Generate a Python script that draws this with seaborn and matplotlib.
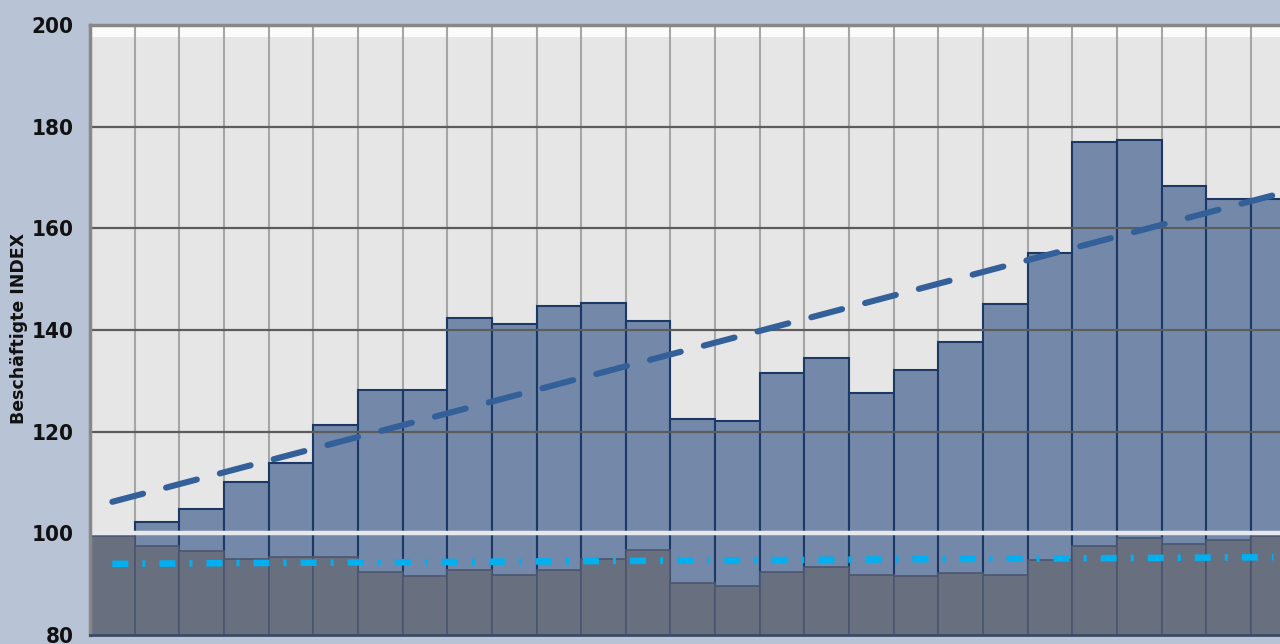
import numpy as np
import pandas as pd
import matplotlib
matplotlib.use("Agg")
import matplotlib.pyplot as plt
import seaborn as sns

# Index values (one column per period)
periods = [str(i) for i in range(1, 28)]
index_values = [100.0, 102.2, 104.8, 110.1, 113.8, 121.3, 128.2, 128.2, 142.4, 141.2,
                144.7, 145.3, 141.8, 122.5, 122.1, 131.5, 134.5, 127.6, 132.1, 137.6,
                145.1, 155.1, 177.0, 177.4, 168.3, 165.8, 165.8]
lower_values = [99.4, 97.6, 96.5, 95.0, 95.3, 95.3, 92.4, 91.6, 92.8, 91.9,
                92.8, 95.0, 96.7, 90.2, 89.6, 92.4, 93.3, 91.9, 91.6, 92.2,
                91.9, 94.7, 97.6, 99.0, 97.9, 98.7, 99.5]
# trend lines: value at first and last period
trend_ends = [106.2, 166.5]
lower_trend_ends = [94.0, 95.3]
y_ticks = [80, 100, 120, 140, 160, 180, 200]

df = pd.DataFrame({"period": periods, "index": index_values, "lower": lower_values})
n = len(periods)

sns.set_style("white")
plt.rcParams["font.family"] = ["DejaVu Sans"]

fig = plt.figure(figsize=(12.8, 6.44), dpi=100, facecolor="#b8c4d6")
ax = fig.add_axes([90 / 1280, 9 / 644, 1 - 90 / 1280, 610 / 644])
ax.set_facecolor("#e6e6e6")

# main bars
sns.barplot(data=df, x="period", y="index", order=periods, width=1.0,
            color="#7489a9", saturation=1, edgecolor="#1c3966", linewidth=1.5,
            ax=ax, zorder=2)
# lower band bars
sns.barplot(data=df, x="period", y="lower", order=periods, width=1.0,
            color="#687080", saturation=1, edgecolor="#4a5670", linewidth=1.2,
            ax=ax, zorder=2.5)

ax.set_xlim(-0.5, 26.15)
ax.set_ylim(80, 200)

# vertical grid at column borders (behind bars)
for xb in np.arange(-0.5, n, 1):
    ax.axvline(xb, color="#a6a6a6", lw=1.5, zorder=0.5)
# horizontal grid over bars
for yv in [120, 140, 160, 180]:
    ax.axhline(yv, color="#5c5c5c", lw=1.6, zorder=3)
ax.axhspan(197.6, 200, color="white", alpha=0.85, lw=0, zorder=0.4)
ax.axhline(100, color="#e6e8ee", lw=3.2, zorder=4)

# trend lines
ax.plot([0, n - 1], trend_ends, color="#34609a", lw=4.4, dashes=(5.2, 3.9),
        dash_capstyle="round", zorder=5)
ax.plot([0, n - 1], lower_trend_ends, color="#00b0f0", lw=4.7,
        dashes=(2.45, 2.15, 0.46, 2.15), dash_capstyle="butt", zorder=5)

ax.set_xticks([])
ax.set_xlabel("")
ax.set_yticks(y_ticks)
ax.set_yticklabels([str(t) for t in y_ticks], fontsize=16, fontweight="bold",
                   fontstretch="condensed", color="#111111")
ax.tick_params(axis="y", length=0, pad=12)
ax.set_ylabel("")
fig.text(19 / 1280, 1 - 328 / 644, "Beschäftigte INDEX", rotation=90,
         ha="center", va="center", fontsize=12.5, fontweight="bold", color="#111111")

ax.spines["right"].set_visible(False)
ax.spines["left"].set_color("#888888")
ax.spines["left"].set_linewidth(2.5)
ax.spines["top"].set_color("#888888")
ax.spines["top"].set_linewidth(2.5)
ax.spines["bottom"].set_color("#3c4a66")
ax.spines["bottom"].set_linewidth(2)
for s in ax.spines.values():
    s.set_zorder(6)

fig.savefig("out.png", dpi=100, facecolor=fig.get_facecolor())
